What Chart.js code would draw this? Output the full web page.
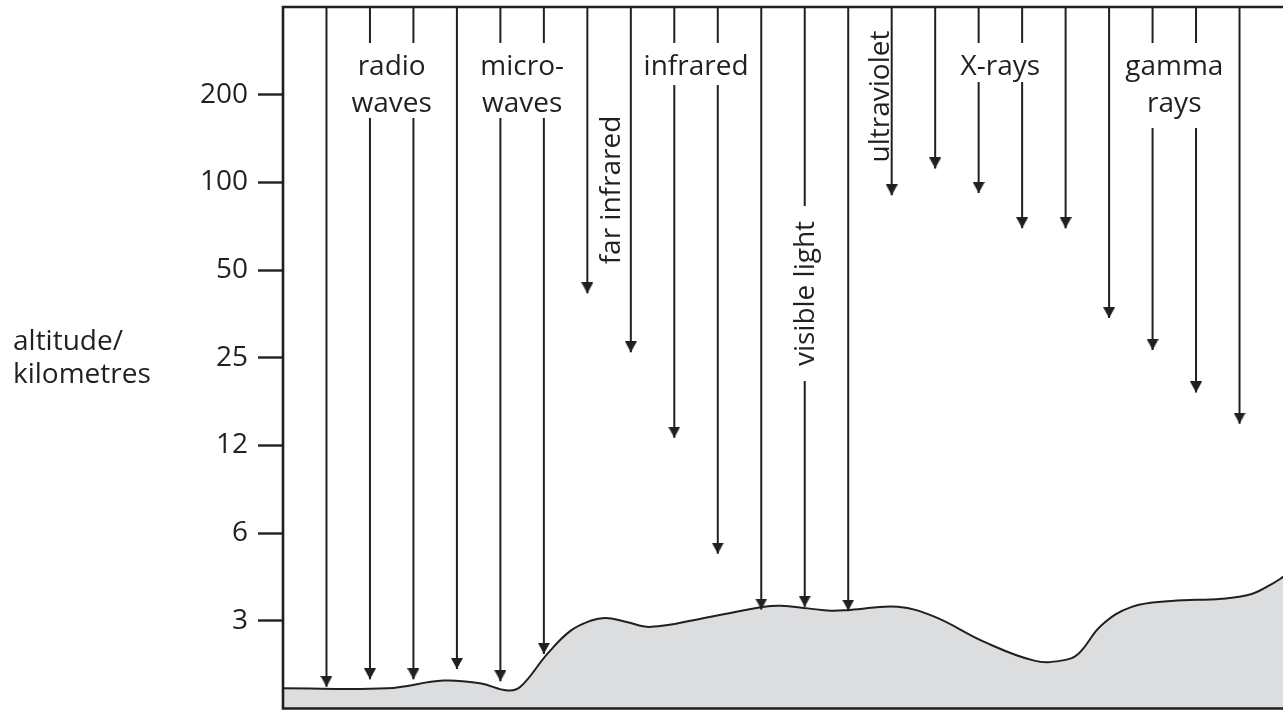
<!DOCTYPE html>
<html>
<head>
<meta charset="utf-8">
<script src="https://cdn.jsdelivr.net/npm/chart.js@4/dist/chart.umd.min.js"></script>
<style>
  body { margin: 0; background: #fff; }
  canvas { display: block; }
</style>
</head>
<body>
<canvas id="chart" width="1283" height="710"></canvas>
<script>
// altitude axis: the labelled ticks, in km
const tickKm = [3, 6, 12, 25, 50, 100, 200];
// the axis is drawn in equal steps, one step per tick (plus the edges)
const stepKm = [1.5, 3, 6, 12, 25, 50, 100, 200, 400];

// arrows, one per band position, and the altitude (km) where each one stops
const arrowPos = [1, 2, 3, 4, 5, 6, 7, 8, 9, 10, 11, 12, 13, 14, 15, 16, 17, 18, 19, 20, 21, 22];
const arrowEndKm = [1.78, 1.89, 1.89, 2.05, 1.86, 2.31, 41.6, 26.1, 12.8, 5.1, 3.28, 3.35,
                    3.25, 90.3, 111.6, 91.9, 69.6, 69.6, 34.2, 26.6, 18.7, 14.4];

// ground profile
const groundX = [0, 2.40, 3.69, 4.53, 5.16, 5.46, 6.08, 6.61, 7.07, 7.42, 7.88, 8.46, 9.61, 11.06,
                 11.45, 12.07, 12.60, 13.04, 14.14, 14.98, 16.13, 17.28, 17.90, 18.29, 18.82,
                 19.52, 20.44, 21.59, 22.28, 22.74, 23.04];
const groundKm = [1.76, 1.76, 1.87, 1.83, 1.73, 1.78, 2.31, 2.77, 3.0, 3.07, 2.98, 2.86, 3.05, 3.35,
                  3.38, 3.31, 3.25, 3.27, 3.35, 3.10, 2.54, 2.19, 2.19, 2.31, 2.89,
                  3.35, 3.51, 3.57, 3.71, 4.01, 4.28];

// band names
const bandNames = [['radio', 'waves'], ['micro-', 'waves'], ['infrared'], ['X-rays'], ['gamma', 'rays']];
const sideNames = ['far infrared', 'visible light', 'ultraviolet'];
const axisTitle = ['altitude/', 'kilometres'];

// layout of the names (band units across, pixels down)
const bandNameX = [2.5, 5.5, 9.5, 16.5, 20.5];
const bandGap = [[43, 118], [43, 118], [43, 85], [43, 82], [43, 128]];
const sideNameX = [7.75, 12.21, 13.94];
const sideNameY = [190, 293.5, 96.5];
const sideGap = [null, { x: 12, from: 206, to: 381 }, null];

const ink = '#231f20';
const FONT = '28px "Open Sans"';

function toLevel(km) {
  let k = 0;
  while (k < stepKm.length - 2 && km > stepKm[k + 1]) k++;
  return k + Math.log(km / stepKm[k]) / Math.log(stepKm[k + 1] / stepKm[k]);
}

const topKm = stepKm[stepKm.length - 1];
const shaftData = [];
arrowPos.forEach((p, i) => {
  shaftData.push({ x: p, y: toLevel(topKm) });
  shaftData.push({ x: p, y: toLevel(arrowEndKm[i]) });
  shaftData.push({ x: p, y: null });
});
const headData = arrowPos.map((p, i) => ({ x: p, y: toLevel(arrowEndKm[i]) }));
const groundData = groundX.map((g, i) => ({ x: g, y: toLevel(groundKm[i]) }));

// arrow head, tip at the centre of the image
const head = document.createElement('canvas');
head.width = 12;
head.height = 22;
const hc = head.getContext('2d');
hc.fillStyle = ink;
hc.beginPath();
hc.moveTo(0, 0);
hc.lineTo(12, 0);
hc.lineTo(6, 11);
hc.closePath();
hc.fill();

const labels = {
  id: 'labels',
  afterDatasetsDraw(chart) {
    const { ctx, chartArea: a, scales: { x } } = chart;
    ctx.save();
    // gaps in the arrows behind the names
    ctx.fillStyle = '#fff';
    bandNameX.forEach((bx, i) => {
      const cx = x.getPixelForValue(bx);
      ctx.fillRect(cx - 30, bandGap[i][0], 60, bandGap[i][1] - bandGap[i][0]);
    });
    sideGap.forEach(g => {
      if (!g) return;
      const cx = x.getPixelForValue(g.x);
      ctx.fillRect(cx - 15, g.from, 30, g.to - g.from);
    });

    ctx.fillStyle = ink;
    ctx.font = FONT;
    ctx.textAlign = 'center';
    ctx.textBaseline = 'alphabetic';
    bandNames.forEach((lines, i) => {
      const cx = x.getPixelForValue(bandNameX[i]);
      lines.forEach((t, j) => ctx.fillText(t, cx, 75 + j * 37));
    });
    sideNames.forEach((t, i) => {
      ctx.save();
      ctx.translate(x.getPixelForValue(sideNameX[i]), sideNameY[i]);
      ctx.rotate(-Math.PI / 2);
      ctx.fillText(t, 0, 0);
      ctx.restore();
    });

    ctx.textAlign = 'left';
    axisTitle.forEach((t, j) => ctx.fillText(t, 13, 350 + j * 33));

    // frame
    ctx.strokeStyle = ink;
    ctx.lineWidth = 2.6;
    ctx.beginPath();
    ctx.moveTo(a.right + 5, a.top);
    ctx.lineTo(a.left, a.top);
    ctx.lineTo(a.left, a.bottom);
    ctx.lineTo(a.right + 5, a.bottom);
    ctx.stroke();
    ctx.restore();
  }
};

new Chart(document.getElementById('chart'), {
  type: 'line',
  data: {
    datasets: [
      {
        label: 'ground',
        data: groundData,
        borderColor: ink,
        borderWidth: 2,
        backgroundColor: '#dcdddf',
        fill: 'start',
        tension: 0.4,
        pointRadius: 0,
        order: 3
      },
      {
        label: 'arrows',
        data: shaftData,
        borderColor: ink,
        borderWidth: 2,
        spanGaps: false,
        tension: 0,
        pointRadius: 0,
        fill: false,
        order: 2
      },
      {
        label: 'heads',
        data: headData,
        showLine: false,
        pointStyle: head,
        pointRadius: 6,
        pointHoverRadius: 6,
        order: 1
      }
    ]
  },
  options: {
    responsive: false,
    animation: false,
    events: [],
    layout: { autoPadding: false, padding: { top: 7, bottom: 1.5, left: 0, right: 0 } },
    plugins: { legend: { display: false }, tooltip: { enabled: false } },
    scales: {
      x: { type: 'linear', min: 0, max: 23, display: false },
      y: {
        type: 'linear',
        min: 0,
        max: 8,
        afterFit(scale) {
          scale.width = 283;
          scale.paddingTop = 0;
          scale.paddingBottom = 0;
        },
        afterBuildTicks(scale) {
          scale.ticks = tickKm.map(v => ({ value: toLevel(v) }));
        },
        ticks: {
          color: ink,
          font: { family: 'Open Sans', size: 28 },
          padding: 10,
          callback(value) {
            const i = tickKm.findIndex(v => Math.abs(toLevel(v) - value) < 1e-6);
            return i < 0 ? '' : String(tickKm[i]);
          }
        },
        grid: {
          drawOnChartArea: false,
          drawTicks: true,
          tickLength: 25,
          tickWidth: 2.4,
          tickColor: ink
        },
        border: { display: false }
      }
    }
  },
  plugins: [labels]
});
</script>
</body>
</html>
